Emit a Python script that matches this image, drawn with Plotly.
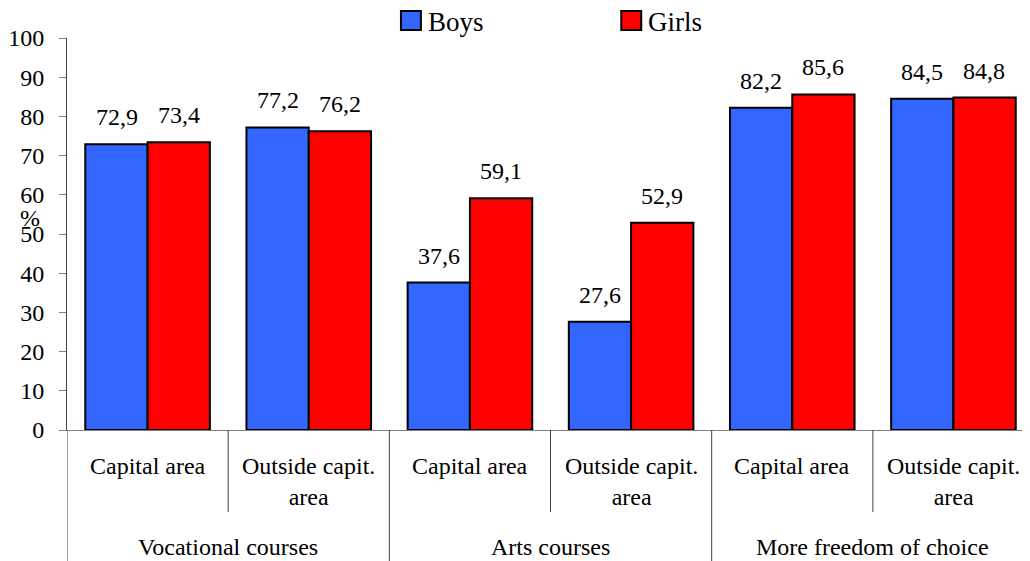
import plotly.graph_objects as go

# data
groups = ["Vocational courses", "Arts courses", "More freedom of choice"]
areas = ["Capital area", "Outside capit.<br>area"]
boys = [72.9, 77.2, 37.6, 27.6, 82.2, 84.5]
girls = [73.4, 76.2, 59.1, 52.9, 85.6, 84.8]
y_ticks = list(range(0, 101, 10))
series = ["Boys", "Girls"]

FONT = "Liberation Serif, Times New Roman, serif"
BLUE = "#3366FF"
RED = "#FF0000"
colors = [BLUE, RED]

# the page body adds an 8px margin, so the figure is 8px smaller and
# window pixel positions are shifted by 8 when converted below
OFF = 8
W, H = 1030 - OFF, 561 - OFF
L, R, T, B = 64, 1030, 38, 430   # plot area in window pixels


def px_x(p):
    return (p - L) / (R - L)


def px_y(p):
    return (B - p) / (B - T)


# one category per (group, area) pair
cats = [f"{g} | {a}" for g in groups for a in areas]


def fmt(v):
    return f"{v:.1f}".replace(".", ",")


def txt(size=24):
    return dict(family=FONT, size=size, color="black")


fig = go.Figure()
for name, vals, col in zip(series, (boys, girls), colors):
    fig.add_trace(go.Bar(x=cats, y=vals, name=name,
                         marker=dict(color=col, line=dict(color="black", width=2))))

annotations = []
# value labels above bars
for c, b, g in zip(cats, boys, girls):
    for val, shift in ((b, -31), (g, 31)):
        annotations.append(dict(
            x=c, y=val, xref="x", yref="y", text=fmt(val), showarrow=False,
            xshift=shift, yshift=12, yanchor="bottom", font=txt(),
        ))

# sub-category labels
for i, c in enumerate(cats):
    a = areas[i % len(areas)]
    two_lines = "<br>" in a
    annotations.append(dict(
        x=c, y=px_y(481.5) if two_lines else px_y(466), xref="x", yref="paper",
        text=a, showarrow=False, xanchor="center", yanchor="middle", font=txt(),
    ))

# group labels
for j, g in enumerate(groups):
    annotations.append(dict(
        x=2 * j + 0.5, y=px_y(547), xref="x", yref="paper", text=g,
        showarrow=False, xanchor="center", yanchor="middle", font=txt(),
    ))

# y axis title
annotations.append(dict(
    x=px_x(27), y=54, xref="paper", yref="y", text="%", showarrow=False,
    xanchor="center", yanchor="middle", font=txt(),
))

shapes = []
# category dividers below the axis
for k in range(len(cats) + 1):
    bottom = px_y(565) if k % 2 == 0 else px_y(512)
    shapes.append(dict(
        type="line", xref="x", yref="paper", x0=k - 0.5, x1=k - 0.5,
        y0=0, y1=bottom, line=dict(color="#404040", width=1),
    ))

# legend drawn by hand (bigger swatches than plotly's own)
for name, col, x0 in zip(series, colors, (399, 620)):
    shapes.append(dict(
        type="rect", xref="paper", yref="paper",
        x0=px_x(x0), x1=px_x(x0 + 20), y0=px_y(30), y1=px_y(11),
        fillcolor=col, line=dict(color="black", width=2),
    ))
    annotations.append(dict(
        x=px_x(x0 + 25), y=px_y(22), xref="paper", yref="paper", text=name,
        showarrow=False, xanchor="left", yanchor="middle", font=txt(27),
    ))

fig.update_layout(
    width=W, height=H,
    margin=dict(l=L - OFF, r=1030 - R, t=T - OFF, b=561 - B),
    plot_bgcolor="white", paper_bgcolor="white",
    barmode="group", bargap=0.227, bargroupgap=0,
    font=txt(),
    showlegend=False,
    annotations=annotations,
    shapes=shapes,
)
fig.update_xaxes(
    range=[-0.5, 5.475], showticklabels=False, ticks="",
    showline=True, linecolor="#808080", linewidth=1, showgrid=False,
    zeroline=False,
)
fig.update_yaxes(
    range=[0, 100], tickvals=y_ticks, ticks="outside", ticklen=7,
    tickcolor="#808080", showline=True, linecolor="#404040", linewidth=1,
    showgrid=False, zeroline=False, ticklabelstandoff=10,
    tickfont=txt(),
)

fig.write_html("out.html")
